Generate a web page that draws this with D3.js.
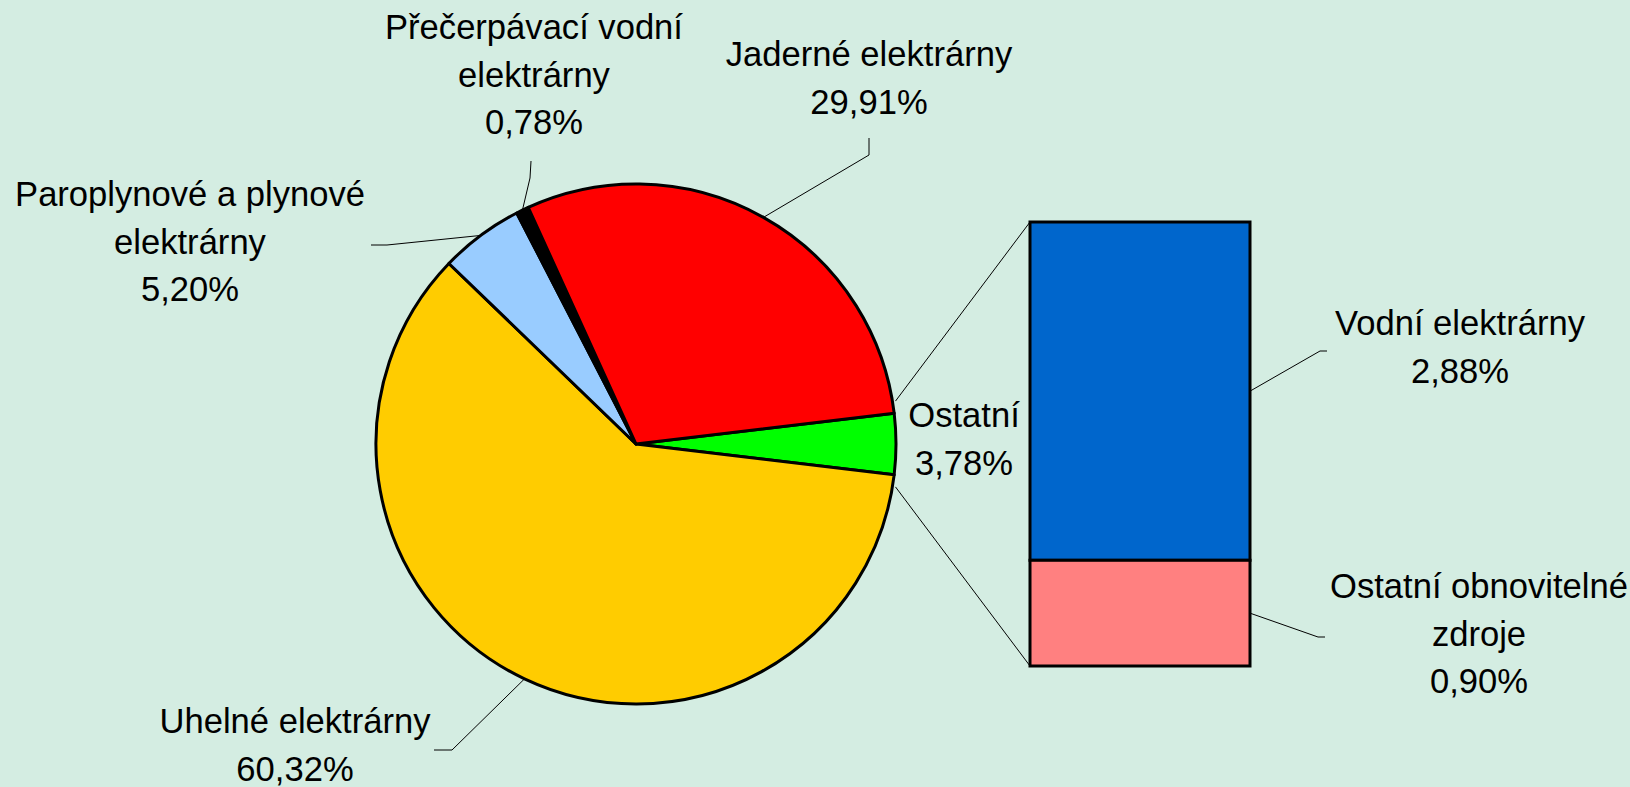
<!DOCTYPE html>
<html>
<head>
<meta charset="utf-8">
<script src="https://cdn.jsdelivr.net/npm/d3@7"></script>
<style>
  body { margin: 0; background: #d4ede2; }
  text { font-family: "Liberation Sans", Arial, sans-serif; font-size: 34.6px; fill: #000; }
</style>
</head>
<body>
<svg id="chart" width="1630" height="787"></svg>
<script>
// pie slices, clockwise starting with the "other" slice at 3 o'clock
const pieCategories = ['Ostatní', 'Uhelné elektrárny', 'Paroplynové a plynové elektrárny', 'Přečerpávací vodní elektrárny', 'Jaderné elektrárny'];
const pieValues = [3.78, 60.32, 5.20, 0.78, 29.91];
const pieColors = ['#00ff00', '#ffcc00', '#99ccff', '#000000', '#ff0000'];

// breakdown of "Ostatní" shown in the bar (top to bottom)
const barCategories = ['Vodní elektrárny', 'Ostatní obnovitelné zdroje'];
const barValues = [2.88, 0.90];
const barColors = ['#0066cc', '#ff8080'];

// label placement (layout only)
const labelLayout = {
  'Ostatní': { x: 964, y: 427, lines: ['Ostatní'] },
  'Uhelné elektrárny': { x: 295, y: 733, lines: ['Uhelné elektrárny'], elbow: [452, 750], end: [434, 750] },
  'Paroplynové a plynové elektrárny': { x: 190, y: 206, lines: ['Paroplynové a plynové', 'elektrárny'], elbow: [387, 245], end: [371, 245] },
  'Přečerpávací vodní elektrárny': { x: 534, y: 39, lines: ['Přečerpávací vodní', 'elektrárny'], elbow: [530, 178], end: [531, 161] },
  'Jaderné elektrárny': { x: 869, y: 66, lines: ['Jaderné elektrárny'], elbow: [869, 155], end: [869, 138] },
  'Vodní elektrárny': { x: 1460, y: 335, lines: ['Vodní elektrárny'], elbow: [1320, 351], end: [1327, 351] },
  'Ostatní obnovitelné zdroje': { x: 1479, y: 598, lines: ['Ostatní obnovitelné', 'zdroje'], elbow: [1318, 637], end: [1325, 637] }
};

const width = 1630, height = 787;
const cx = 636, cy = 444, radius = 260;
const lineH = 47.5;
const pct = v => d3.format('.2f')(v).replace('.', ',') + '%';

const svg = d3.select('#chart');
svg.append('rect').attr('width', width).attr('height', height).attr('fill', '#d4ede2');

// Pie
const otherAngle = pieValues[0] / d3.sum(pieValues) * 2 * Math.PI;
const pie = d3.pie().sort(null).value(d => d)
  .startAngle(Math.PI / 2 - otherAngle / 2)
  .endAngle(Math.PI / 2 - otherAngle / 2 + 2 * Math.PI);
const arcs = pie(pieValues);
const arc = d3.arc().innerRadius(0).outerRadius(radius);
const rim = d3.arc().innerRadius(radius).outerRadius(radius);

const gPie = svg.append('g').attr('transform', `translate(${cx},${cy})`);

// connector lines from the "other" slice to the bar
const y = d3.scaleLinear().domain([0, d3.sum(barValues)]).range([666, 222]);
const barX0 = 1030, barX1 = 1250;
const spread = 0.045;
const edge = a => [cx + (radius + 3) * Math.sin(a), cy - (radius + 3) * Math.cos(a)];
const topStart = edge(arcs[0].startAngle - spread);
const botStart = edge(arcs[0].endAngle + spread);
svg.append('line').attr('x1', topStart[0]).attr('y1', topStart[1]).attr('x2', barX0).attr('y2', y(d3.sum(barValues)))
  .attr('stroke', '#000').attr('stroke-width', 1);
svg.append('line').attr('x1', botStart[0]).attr('y1', botStart[1]).attr('x2', barX0).attr('y2', y(0))
  .attr('stroke', '#000').attr('stroke-width', 1);

gPie.selectAll('path')
  .data(arcs)
  .join('path')
  .attr('d', arc)
  .attr('fill', (d, i) => pieColors[i])
  .attr('stroke', '#000')
  .attr('stroke-width', 3)
  .attr('stroke-linejoin', 'round');

// Bar of pie
let acc = d3.sum(barValues);
const barSegs = barValues.map((v, i) => {
  const seg = { name: barCategories[i], value: v, top: acc, bottom: acc - v, color: barColors[i] };
  acc -= v;
  return seg;
});
svg.append('g').selectAll('rect')
  .data(barSegs)
  .join('rect')
  .attr('x', barX0)
  .attr('width', barX1 - barX0)
  .attr('y', d => y(d.top))
  .attr('height', d => y(d.bottom) - y(d.top))
  .attr('fill', d => d.color)
  .attr('stroke', '#000')
  .attr('stroke-width', 3);

// Leader lines
const leader = d3.line();
arcs.forEach((d, i) => {
  const L = labelLayout[pieCategories[i]];
  if (!L.elbow) return;
  const c = rim.centroid(d);
  svg.append('path')
    .attr('d', leader([[cx + c[0], cy + c[1]], L.elbow, L.end]))
    .attr('fill', 'none').attr('stroke', '#000').attr('stroke-width', 1);
});
barSegs.forEach(s => {
  const L = labelLayout[s.name];
  const start = [barX1, (y(s.top) + y(s.bottom)) / 2];
  svg.append('path')
    .attr('d', leader([start, L.elbow, L.end]))
    .attr('fill', 'none').attr('stroke', '#000').attr('stroke-width', 1);
});

// Labels
const labels = pieCategories.map((n, i) => ({ name: n, value: pieValues[i] }))
  .concat(barCategories.map((n, i) => ({ name: n, value: barValues[i] })));
labels.forEach(d => {
  const L = labelLayout[d.name];
  const t = svg.append('text').attr('text-anchor', 'middle');
  L.lines.concat([pct(d.value)]).forEach((s, k) => {
    t.append('tspan').attr('x', L.x).attr('y', L.y + k * lineH).text(s);
  });
});
</script>
</body>
</html>
